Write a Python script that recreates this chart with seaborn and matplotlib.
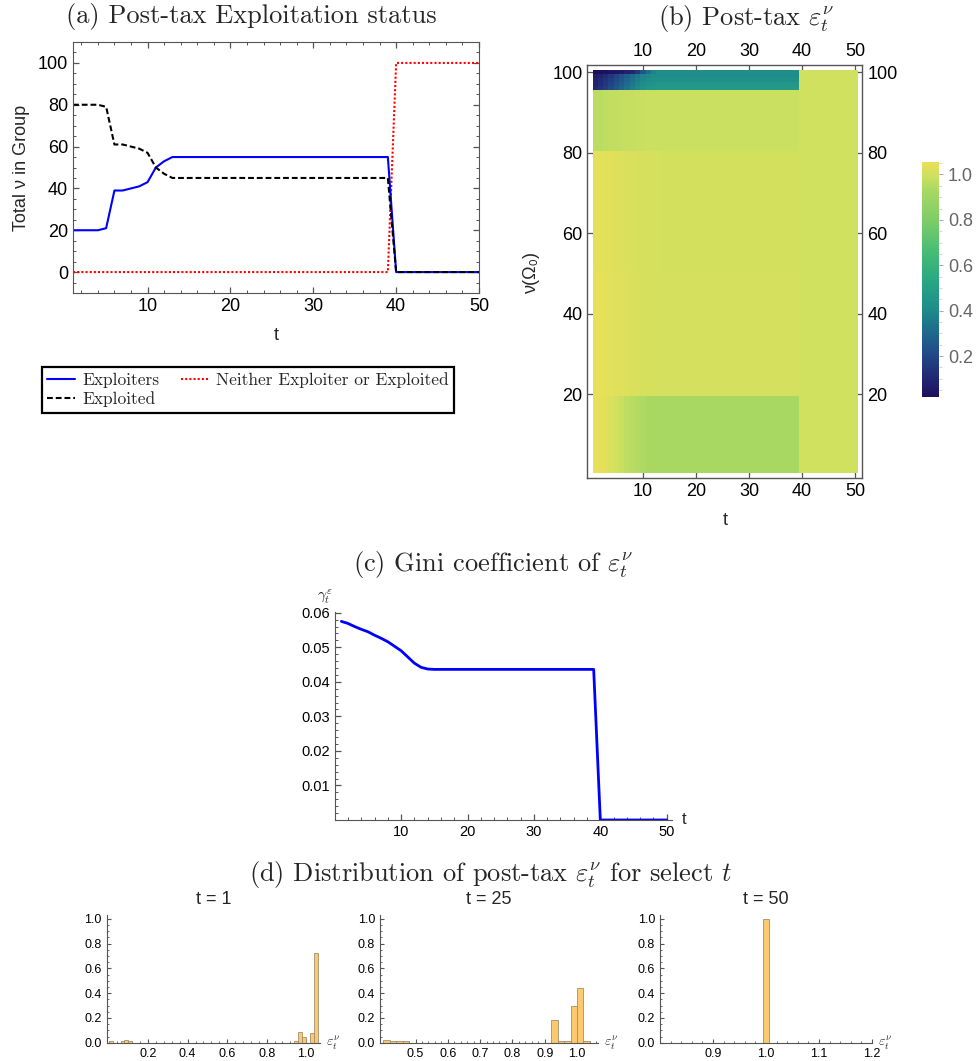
import numpy as np
import pandas as pd
import matplotlib
matplotlib.use("Agg")
import matplotlib.pyplot as plt
import seaborn as sns
from matplotlib.colors import LinearSegmentedColormap
from matplotlib.ticker import MultipleLocator

sns.set_style("white")
plt.rcParams['font.family'] = ['Liberation Sans', 'DejaVu Sans']
plt.rcParams['mathtext.fontset'] = 'cm'

# ---------------- data ----------------
t = list(range(1, 51))

# (a) total nu in each group
exploiters = [20, 20, 20, 20, 21, 39, 39, 40, 41, 43, 50, 53, 55] + [55] * 26 + [0] * 11
exploited = [80, 80, 80, 80, 79, 61, 61, 60, 59, 57, 50, 47, 45] + [45] * 26 + [0] * 11
neither = [0] * 39 + [100] * 11

# (b) post-tax epsilon by nu band: values for t=1..13, level held to t=39, then 1.0
band_nu_ranges = [(1, 19), (20, 50), (51, 80), (81, 95),
                  (96, 96), (97, 97), (98, 98), (99, 99), (100, 100)]
band_early = [
    [1.050, 1.045, 1.035, 1.020, 1.000, 0.985, 0.970, 0.957, 0.946, 0.938, 0.933, 0.931, 0.930],
    [1.052, 1.050, 1.046, 1.041, 1.036, 1.031, 1.026, 1.021, 1.017, 1.014, 1.012, 1.011, 1.010],
    [1.046, 1.042, 1.037, 1.032, 1.028, 1.024, 1.020, 1.017, 1.014, 1.012, 1.011, 1.010, 1.010],
    [0.965, 0.966, 0.968, 0.971, 0.974, 0.977, 0.980, 0.982, 0.984, 0.986, 0.988, 0.989, 0.990],
    [0.11, 0.14, 0.17, 0.21, 0.25, 0.29, 0.33, 0.37, 0.40, 0.43, 0.45, 0.46, 0.47],
    [0.09, 0.12, 0.15, 0.19, 0.23, 0.27, 0.31, 0.35, 0.38, 0.41, 0.43, 0.44, 0.45],
    [0.09, 0.11, 0.14, 0.17, 0.21, 0.25, 0.29, 0.33, 0.36, 0.39, 0.41, 0.42, 0.43],
    [0.07, 0.09, 0.12, 0.15, 0.19, 0.23, 0.27, 0.31, 0.35, 0.38, 0.40, 0.41, 0.41],
    [0.01, 0.02, 0.03, 0.04, 0.05, 0.06, 0.08, 0.10, 0.16, 0.24, 0.32, 0.38, 0.41],
]
band_level = [0.930, 1.010, 1.005, 0.990, 0.47, 0.45, 0.43, 0.41, 0.41]
eps_after_40 = 1.0

# (c) Gini coefficient
gini = [0.0575, 0.0569, 0.0560, 0.0552, 0.0545, 0.0535, 0.0526, 0.0516, 0.0503, 0.0490,
        0.0472, 0.0454, 0.0442, 0.0437] + [0.0436] * 25 + [0.0] * 11

# (d) histograms (bin centre, probability)
hist_t1_x = [0.01, 0.07, 0.09, 0.11, 0.95, 0.97, 0.99, 1.03, 1.05]
hist_t1_p = [0.01, 0.01, 0.02, 0.01, 0.01, 0.09, 0.05, 0.08, 0.72]
hist_t25_x = [0.41, 0.43, 0.45, 0.47, 0.93, 0.95, 0.97, 0.99, 1.01, 1.03]
hist_t25_p = [0.02, 0.01, 0.01, 0.01, 0.18, 0.01, 0.01, 0.30, 0.44, 0.01]
hist_t50_x = [1.0]
hist_t50_p = [1.0]

cmap = LinearSegmentedColormap.from_list("bgy", [
    (0.00, '#1e0e5e'), (0.10, '#222e78'), (0.20, '#21508a'), (0.30, '#1e728c'),
    (0.38, '#1f8e8a'), (0.50, '#2aa882'), (0.62, '#48bc74'), (0.75, '#7ccc68'),
    (0.88, '#a8d862'), (0.94, '#cce060'), (1.00, '#e9e058')])

FRAME = '#555555'
SERIF = 'cmr10'
TITLE_SIZE = 19

W, H = 979, 1061
fig = plt.figure(figsize=(W / 100, H / 100), dpi=100)


def px_axes(l, top, r, b):
    return fig.add_axes([l / W, 1 - b / H, (r - l) / W, (b - top) / H])


# ---------------- (a) ----------------
ax_a = px_axes(73, 42, 479, 293)
sns.lineplot(x=t, y=neither, ax=ax_a, color='#ff0000', lw=1.5, linestyle=(0, (1, 1)),
             label='Neither Exploiter or Exploited', legend=False)
sns.lineplot(x=t, y=exploiters, ax=ax_a, color='#0000ff', lw=1.5,
             label='Exploiters', legend=False)
sns.lineplot(x=t, y=exploited, ax=ax_a, color='black', lw=1.5, linestyle=(0, (2.8, 1.4)),
             label='Exploited', legend=False)
ax_a.set_xlim(1, 50)
ax_a.set_ylim(-10, 110)
ax_a.set_xticks([10, 20, 30, 40, 50])
ax_a.set_yticks([0, 20, 40, 60, 80, 100])
ax_a.xaxis.set_minor_locator(MultipleLocator(2))
ax_a.yaxis.set_minor_locator(MultipleLocator(5))
ax_a.tick_params(which='both', direction='in', bottom=True, left=True, top=True, right=True,
                 color=FRAME, labelsize=13, labelcolor='black')
ax_a.tick_params(which='major', length=4.5, width=0.9)
ax_a.tick_params(which='minor', length=2.5, width=0.7)
for s in ax_a.spines.values():
    s.set_color(FRAME)
ax_a.set_ylabel('Total ν in Group', fontsize=13)
ax_a.set_xlabel('t', fontsize=13)
ax_a.yaxis.set_label_coords(-0.105, 0.5)
ax_a.xaxis.set_label_coords(0.5, -0.135)

handles, labels = ax_a.get_legend_handles_labels()
order = [labels.index(n) for n in ['Exploiters', 'Exploited', 'Neither Exploiter or Exploited']]
leg = fig.legend([handles[i] for i in order], [labels[i] for i in order],
                 loc='upper left', bbox_to_anchor=(42 / W, 1 - 367 / H),
                 ncol=2, prop={'family': SERIF, 'size': 12.5},
                 frameon=True, fancybox=False, framealpha=1, edgecolor='black',
                 borderpad=0.3, labelspacing=0.2, handlelength=1.6, handletextpad=0.45,
                 columnspacing=1.2, borderaxespad=0)
leg.get_frame().set_linewidth(1.6)

# ---------------- (b) ----------------
ax_b = px_axes(587.3, 65.3, 862.3, 478.3)
cax = px_axes(922, 162, 939, 397)

nu_desc = list(range(100, 0, -1))
eps = pd.DataFrame(index=nu_desc, columns=t, dtype=float)
for (lo, hi), early, level in zip(band_nu_ranges, band_early, band_level):
    row = early + [level] * (39 - len(early)) + [eps_after_40] * 11
    for nu in range(lo, hi + 1):
        eps.loc[nu] = row

sns.heatmap(eps, ax=ax_b, cmap=cmap, vmin=0.02, vmax=1.055, cbar_ax=cax,
            xticklabels=False, yticklabels=False)
tick_t = [10, 20, 30, 40, 50]
tick_nu = [20, 40, 60, 80, 100]
ax_b.set_xticks([v - 0.5 for v in tick_t])
ax_b.set_xticklabels([str(v) for v in tick_t], rotation=0)
ax_b.set_yticks([100.5 - v for v in tick_nu])
ax_b.set_yticklabels([str(v) for v in tick_nu], rotation=0)
ax_b.set_xlim(-1.0, 50.9)
ax_b.set_ylim(101.4, -1.2)
ax_b.tick_params(direction='in', bottom=True, left=True, top=True, labeltop=True,
                 right=True, labelright=True, length=4.5, width=0.9, color=FRAME,
                 labelsize=13, labelcolor='black')
for s in ax_b.spines.values():
    s.set_visible(True)
    s.set_color(FRAME)
    s.set_linewidth(1)
ax_b.set_ylabel('ν(Ω₀)', fontsize=13)
ax_b.set_xlabel('t', fontsize=13)
ax_b.yaxis.set_label_coords(-0.172, 0.5)
ax_b.xaxis.set_label_coords(0.5, -0.082)

cbar = ax_b.collections[0].colorbar
cbar.outline.set_visible(False)
cbar.set_ticks([0.2, 0.4, 0.6, 0.8, 1.0])
cbar.ax.yaxis.set_minor_locator(MultipleLocator(0.05))
cbar.ax.tick_params(which='both', right=True, left=False)
cbar.ax.tick_params(which='major', labelsize=13, labelcolor='#666666', color='#aaaaaa',
                    length=3, width=0.8)
cbar.ax.tick_params(which='minor', color='#cccccc', length=2, width=0.6)

# ---------------- (c) ----------------
ax_c = px_axes(334.7, 611.7, 671.7, 820)
sns.lineplot(x=t, y=gini, ax=ax_c, color='#0000ff', lw=2)
ax_c.set_xlim(0, 50.75)
ax_c.set_ylim(0, 0.0603)
ax_c.set_xticks([10, 20, 30, 40, 50])
ax_c.set_yticks([0.01, 0.02, 0.03, 0.04, 0.05, 0.06])
ax_c.xaxis.set_minor_locator(MultipleLocator(2))
ax_c.yaxis.set_minor_locator(MultipleLocator(0.002))
ax_c.tick_params(which='both', direction='in', bottom=True, left=True, color=FRAME,
                 labelsize=10.5, labelcolor='black')
ax_c.tick_params(which='major', length=4, width=0.9)
ax_c.tick_params(which='minor', length=2, width=0.7)
for side in ['top', 'right']:
    ax_c.spines[side].set_visible(False)
for side in ['left', 'bottom']:
    ax_c.spines[side].set_color(FRAME)
ax_c.text(-0.029, 1.07, r'$\gamma_t^\varepsilon$', transform=ax_c.transAxes,
          ha='center', va='center', fontsize=11)
ax_c.text(1.037, 0.0, 't', transform=ax_c.transAxes, ha='center', va='center', fontsize=12)

# ---------------- (d) ----------------
hist_specs = [
    ('t = 1', hist_t1_x, hist_t1_p, 0.02, (0.0, 1.06), (-0.01, 1.07),
     [0.2, 0.4, 0.6, 0.8, 1.0], 0.04, (106.7, 320)),
    ('t = 25', hist_t25_x, hist_t25_p, 0.02, (0.40, 1.04), (0.39, 1.065),
     [0.5, 0.6, 0.7, 0.8, 0.9, 1.0], 0.02, (380, 598)),
    ('t = 50', hist_t50_x, hist_t50_p, 0.01, (0.995, 1.005), (0.8, 1.2),
     [0.9, 1.0, 1.1, 1.2], 0.02, (660, 872)),
]
for title, xs, ps, bw, br, xl, xt, xminor, (l, r) in hist_specs:
    ax = px_axes(l, 915, r, 1042.7)
    sns.histplot(x=xs, weights=ps, binwidth=bw, binrange=br, ax=ax,
                 color='#fcc96e', edgecolor='#a09070', linewidth=0.6, alpha=1)
    ax.set_xlim(*xl)
    ax.set_ylim(0, 1.03)
    ax.set_xticks(xt)
    ax.set_yticks([0.0, 0.2, 0.4, 0.6, 0.8, 1.0])
    ax.xaxis.set_minor_locator(MultipleLocator(xminor))
    ax.yaxis.set_minor_locator(MultipleLocator(0.05))
    ax.tick_params(which='both', direction='in', bottom=True, left=True, color=FRAME,
                   labelsize=9, labelcolor='black')
    ax.tick_params(which='major', length=3, width=0.8)
    ax.tick_params(which='minor', length=1.5, width=0.6)
    ax.set_ylabel('')
    ax.set_xlabel('')
    for side in ['top', 'right']:
        ax.spines[side].set_visible(False)
    for side in ['left', 'bottom']:
        ax.spines[side].set_color(FRAME)
    ax.text(1.06, 0.0, r'$\varepsilon_t^\nu$', transform=ax.transAxes,
            ha='center', va='center', fontsize=10)
    fig.text((l + r) / 2 / W, 1 - 900 / H, title, ha='center', va='center', fontsize=13)

# ---------------- section titles ----------------
fig.text(251 / W, 1 - 17 / H, '(a) Post-tax Exploitation status',
         fontfamily=SERIF, fontsize=TITLE_SIZE, ha='center', va='center')
fig.text(746 / W, 1 - 18 / H, r'(b) Post-tax $\varepsilon_t^\nu$',
         fontfamily=SERIF, fontsize=TITLE_SIZE, ha='center', va='center')
fig.text(493 / W, 1 - 565 / H, r'(c) Gini coefficient of $\varepsilon_t^\nu$',
         fontfamily=SERIF, fontsize=TITLE_SIZE, ha='center', va='center')
fig.text(491 / W, 1 - 875 / H, r'(d) Distribution of post-tax $\varepsilon_t^\nu$ for select $t$',
         fontfamily=SERIF, fontsize=TITLE_SIZE, ha='center', va='center')

fig.savefig('out.png', dpi=100)
